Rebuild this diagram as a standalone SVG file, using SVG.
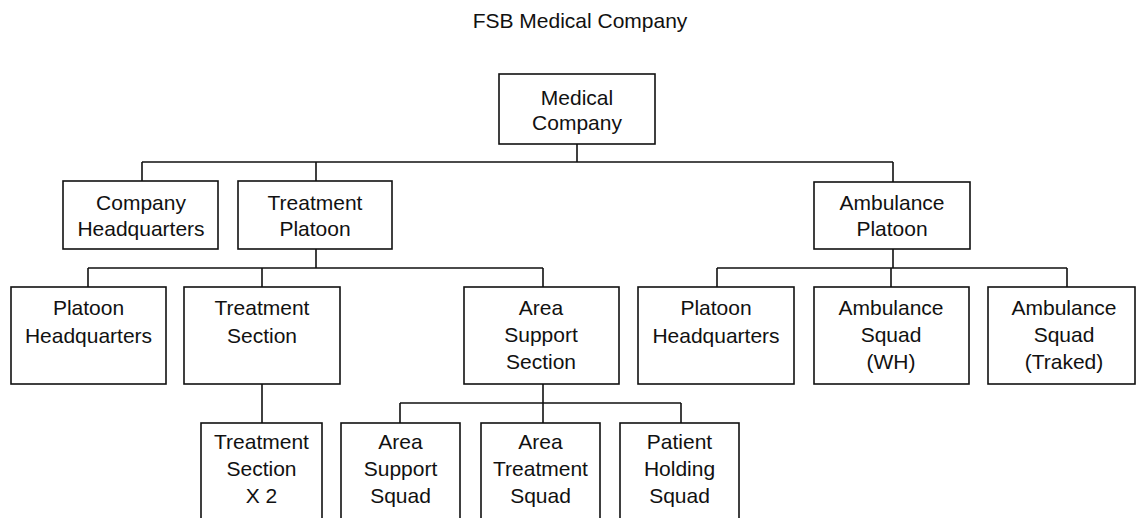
<svg xmlns="http://www.w3.org/2000/svg" width="1136" height="518" viewBox="0 0 1136 518">
<style>
.box{fill:#fff;stroke:#111;stroke-width:1.6}
.t{font-family:"Liberation Sans",Arial,sans-serif;font-size:21px;fill:#111;text-anchor:middle}
.c{fill:none;stroke:#111;stroke-width:1.6}
</style>
<rect width="1136" height="518" fill="#fff"/>
<text class="t" x="580" y="28">FSB Medical Company</text>
<g id="connectors">
<path class="c" d="M577,144V162M142,162H893M142,162V181M316,162V181M893,162V182"/>
<path class="c" d="M316,249V268M88,268H543M88,268V287M262,268V287M543,268V287"/>
<path class="c" d="M893,249V268M717,268H1067M717,268V287M891,268V287M1067,268V287"/>
<path class="c" d="M262,384V423"/>
<path class="c" d="M543,384V403M400,403H681M400,403V423M543,403V423M681,403V423"/>
</g>
<g id="root"><rect class="box" x="499" y="74" width="156" height="70"/><text class="t" x="577" y="105">Medical</text><text class="t" x="577" y="130">Company</text></g>
<g id="company-hq"><rect class="box" x="63" y="181" width="155" height="68"/><text class="t" x="141" y="210">Company</text><text class="t" x="141" y="236">Headquarters</text></g>
<g id="treatment-platoon"><rect class="box" x="238" y="181" width="154" height="68"/><text class="t" x="315" y="210">Treatment</text><text class="t" x="315" y="236">Platoon</text></g>
<g id="ambulance-platoon"><rect class="box" x="814" y="182" width="156" height="67"/><text class="t" x="892" y="210">Ambulance</text><text class="t" x="892" y="236">Platoon</text></g>
<g id="platoon-hq-1"><rect class="box" x="11" y="287" width="155" height="97"/><text class="t" x="88.5" y="315">Platoon</text><text class="t" x="88.5" y="343">Headquarters</text></g>
<g id="treatment-section"><rect class="box" x="184" y="287" width="156" height="97"/><text class="t" x="262" y="315">Treatment</text><text class="t" x="262" y="343">Section</text></g>
<g id="area-support-section"><rect class="box" x="464" y="287" width="155" height="97"/><text class="t" x="541" y="315">Area</text><text class="t" x="541" y="342">Support</text><text class="t" x="541" y="369">Section</text></g>
<g id="platoon-hq-2"><rect class="box" x="638" y="287" width="156" height="97"/><text class="t" x="716" y="315">Platoon</text><text class="t" x="716" y="343">Headquarters</text></g>
<g id="ambulance-squad-wh"><rect class="box" x="814" y="287" width="155" height="97"/><text class="t" x="891" y="315">Ambulance</text><text class="t" x="891" y="342">Squad</text><text class="t" x="891" y="369">(WH)</text></g>
<g id="ambulance-squad-traked"><rect class="box" x="988" y="287" width="147" height="97"/><text class="t" x="1064" y="315">Ambulance</text><text class="t" x="1064" y="342">Squad</text><text class="t" x="1064" y="369">(Traked)</text></g>
<g id="treatment-section-x2"><rect class="box" x="201" y="423" width="121" height="110"/><text class="t" x="261.5" y="449">Treatment</text><text class="t" x="261.5" y="476">Section</text><text class="t" x="261.5" y="503">X 2</text></g>
<g id="area-support-squad"><rect class="box" x="341" y="423" width="119" height="110"/><text class="t" x="400.5" y="449">Area</text><text class="t" x="400.5" y="476">Support</text><text class="t" x="400.5" y="503">Squad</text></g>
<g id="area-treatment-squad"><rect class="box" x="481" y="423" width="119" height="110"/><text class="t" x="540.5" y="449">Area</text><text class="t" x="540.5" y="476">Treatment</text><text class="t" x="540.5" y="503">Squad</text></g>
<g id="patient-holding-squad"><rect class="box" x="620" y="423" width="119" height="110"/><text class="t" x="679.5" y="449">Patient</text><text class="t" x="679.5" y="476">Holding</text><text class="t" x="679.5" y="503">Squad</text></g>
</svg>
